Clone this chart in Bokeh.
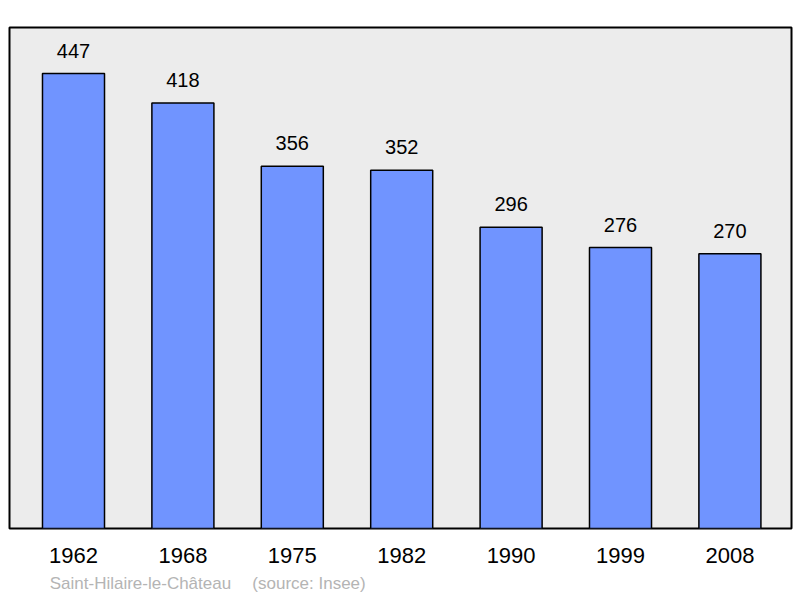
from bokeh.plotting import figure
from bokeh.models import Range1d, FixedTicker, LinearAxis, ColumnDataSource
from bokeh.core.properties import value
from bokeh.embed import file_html
from bokeh.resources import INLINE

years = ["1962", "1968", "1975", "1982", "1990", "1999", "2008"]
population = [447, 418, 356, 352, 296, 276, 270]
caption_place = "Saint-Hilaire-le-Château"
caption_source = "(source: Insee)"

idx = list(range(len(years)))
src = ColumnDataSource(dict(x=idx, top=population, label=[str(v) for v in population]))

p = figure(width=800, height=598, output_backend="svg", toolbar_location=None,
           x_range=Range1d(-0.585, 6.563), y_range=Range1d(0, 492.2),
           min_border_left=9, min_border_right=9, min_border_top=27, min_border_bottom=70)
p.background_fill_color = "#ececec"
p.border_fill_color = "white"
p.outline_line_color = "black"
p.outline_line_width = 2
p.grid.visible = False
p.yaxis.visible = False

p.vbar(x="x", top="top", bottom=0, width=0.567, source=src,
       fill_color="#7094ff", line_color="black", line_width=1.5)
p.text(x="x", y="top", text="label", source=src, text_align="center",
       text_baseline="alphabetic", y_offset=-23, text_font_size="20px",
       text_color="black", text_font=value("Liberation Sans"))


def style_axis(ax, size, color, standoff):
    ax.axis_line_color = None
    ax.major_tick_line_color = None
    ax.minor_tick_line_color = None
    ax.major_tick_out = 0
    ax.major_tick_in = 0
    ax.major_label_standoff = standoff
    ax.major_label_text_font_size = size
    ax.major_label_text_font = "Liberation Sans"
    ax.major_label_text_color = color


ax = p.xaxis[0]
ax.ticker = FixedTicker(ticks=idx)
ax.major_label_overrides = {i: y for i, y in zip(idx, years)}
style_axis(ax, "22px", "black", 19)

cap_pos = [0.612, 2.153]
cap_ax = LinearAxis(ticker=FixedTicker(ticks=cap_pos),
                    major_label_overrides={cap_pos[0]: caption_place, cap_pos[1]: caption_source})
style_axis(cap_ax, "17px", "#b4b4b4", 8)
p.add_layout(cap_ax, "below")

open("out.html", "w").write(file_html(p, INLINE))
